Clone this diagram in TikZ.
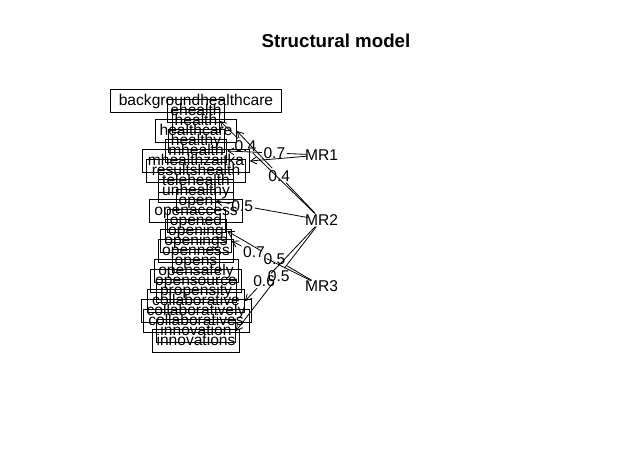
\documentclass[tikz,border=0pt]{standalone}
\usepackage{fontspec}
\setmainfont{Liberation Sans}
\usetikzlibrary{arrows.meta,calc,shapes.geometric}
\newcommand\dfont{\fontsize{15.6}{18}\selectfont}
\newcommand\obsnode[3]{\node[obsbox] (#1) at (196,#2) {\makebox[1.111\width]{#3}};}
\tikzset{
  obsbox/.style={draw,line width=0.8pt,inner xsep=0pt,inner ysep=0pt,text height=8pt,text depth=0pt,minimum height=23pt,font=\dfont},
  latent/.style={ellipse,inner sep=0pt,minimum width=30pt,minimum height=14pt},
  mrtext/.style={font=\dfont,inner sep=0pt,text height=11.2pt,text depth=0pt},
  lab/.style={font=\dfont,inner sep=1.5pt,text height=11.2pt,text depth=0pt},
  edge/.style={line width=0.8pt},
  arr/.style={line width=0.8pt,-{Straight Barb[angle=60:7pt]}}
}
\begin{document}
\begin{tikzpicture}[x=1pt,y=-1pt]
\path[use as bounding box,fill=white] (0,0) rectangle (635,458);
\node[font=\fontsize{18.7}{22}\selectfont\bfseries,inner sep=0pt,text height=13.4pt,text depth=0pt] (title) at (336,41) {Structural model};
% observed variables
\obsnode{bg}{101}{backgroundhealthcare}
\obsnode{ehealth}{111}{ehealth}
\obsnode{health}{121}{health}
\obsnode{healthcare}{131}{healthcare}
\obsnode{healthy}{141}{healthy}
\obsnode{mhealth}{151}{mhealth}
\obsnode{mhz}{161}{mhealthzaitka}
\obsnode{results}{171}{resultshealth}
\obsnode{tele}{181}{telehealth}
\obsnode{unhealthy}{191}{unhealthy}
\obsnode{open}{201}{open}
\obsnode{openaccess}{211}{openaccess}
\obsnode{opened}{221}{opened}
\obsnode{opening}{231}{opening}
\obsnode{openings}{241}{openings}
\obsnode{openness}{251}{openness}
\obsnode{opens}{261}{opens}
\obsnode{opensafely}{271}{opensafely}
\obsnode{opensource}{281}{opensource}
\obsnode{propensity}{291}{propensity}
\obsnode{collab}{301}{collaborative}
\obsnode{collably}{311}{collaboratively}
\obsnode{collabs}{321}{collaboratives}
\obsnode{innov}{331}{innovation}
\obsnode{innovs}{341}{innovations}
% latent variables
\node[latent] (MR1) at (321.5,155) {};
\node[latent] (MR2) at (321.5,220) {};
\node[latent] (MR3) at (321.5,286) {};
\node[mrtext] (MR1t) at (MR1) {MR1};
\node[mrtext] (MR2t) at (MR2) {MR2};
\node[mrtext] (MR3t) at (MR3) {MR3};
% labels
\node[lab] (l1) at ($(MR2)!0.75!(health.east)$) {0.4};
\node[lab] (l2) at ($(MR2)!0.5!(healthcare.east)$) {0.4};
\node[lab] (l3) at ($(MR1)!0.5!(mhealth.east)$) {0.7};
\node[lab] (l4) at ($(MR2)!0.75!(open.east)$) {0.5};
\node[lab] (l5) at ($(MR3)!0.75!(openings.east)$) {0.7};
\node[lab] (l6) at ($(MR3)!0.5!(opening.east)$) {0.5};
\node[lab] (l7) at ($(MR2)!0.75!(collab.east)$) {0.6};
\node[lab] (l8) at ($(MR2)!0.5!(innov.east)$) {0.5};
% edges
\draw[edge] (MR2) -- (l1); \draw[arr] (l1) -- (health.east);
\draw[edge] (MR2) -- (l2); \draw[arr] (l2) -- (healthcare.east);
\draw[edge] (MR1) -- (l3); \draw[arr] (l3) -- (mhealth.east);
\draw[arr] (MR1) -- (mhz.east);
\draw[edge] (MR2) -- (l4); \draw[arr] (l4) -- (open.east);
\draw[edge] (MR3) -- (l5); \draw[arr] (l5) -- (openings.east);
\draw[edge] (MR3) -- (l6); \draw[arr] (l6) -- (opening.east);
\draw[edge] (MR2) -- (l7); \draw[arr] (l7) -- (collab.east);
\draw[edge] (MR2) -- (l8); \draw[arr] (l8) -- (innov.east);
\end{tikzpicture}
\end{document}
